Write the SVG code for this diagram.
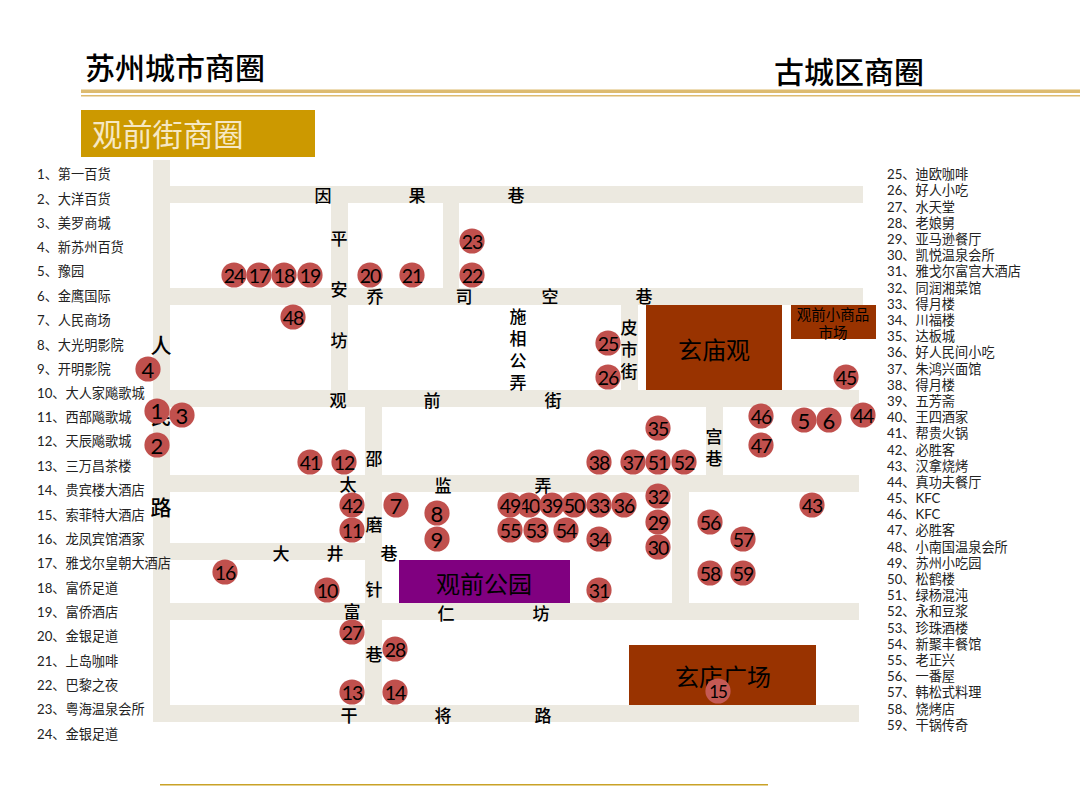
<svg xmlns="http://www.w3.org/2000/svg" width="1080" height="810" viewBox="0 0 1080 810">
<style>
text{font-family:"Noto Sans CJK SC","Liberation Sans",sans-serif;fill:#000;dominant-baseline:central}
.r{fill:#ECE9E0}
.g{fill:#DDBB70}
.b{fill:#993300}
.m circle{fill:#C0504D;r:12.6px}
.m text{font-family:"Lato","Liberation Sans",sans-serif;font-size:19.5px;letter-spacing:-1px;text-anchor:middle}
.m .d{font-size:22px;letter-spacing:0}
.l text{font-family:"Lato","Noto Sans CJK SC",sans-serif;font-size:13.2px;fill:#222}
.s text{font-size:17px;text-anchor:middle;font-weight:500}
.s .big{font-size:21px}
.t{font-size:30px;font-weight:500}
.c{text-anchor:middle}
</style>
<rect width="1080" height="810" fill="#fff"/>
<g id="header">
<rect class="g" x="81" y="89.500" width="999" height="3.500"/>
<rect class="g" x="81" y="95" width="999" height="1.500"/>
<text class="t" x="85" y="66">苏州城市商圈</text>
<text class="t" x="774" y="70">古城区商圈</text>
<rect x="81" y="110" width="234" height="47" fill="#CC9900"/>
<text x="92" y="133" font-size="30.300" style="fill:#F6E8C4">观前街商圈</text>
<rect x="160" y="784" width="608" height="1.500" fill="#C9A227"/>
</g>
<g id="roads">
<rect class="r" x="153" y="160" width="17" height="562"/>
<rect class="r" x="170" y="186" width="693" height="17"/>
<rect class="r" x="170" y="288" width="693" height="17"/>
<rect class="r" x="170" y="390" width="689" height="17"/>
<rect class="r" x="170" y="475" width="689" height="17"/>
<rect class="r" x="170" y="543" width="195" height="17"/>
<rect class="r" x="170" y="603" width="689" height="17"/>
<rect class="r" x="170" y="705" width="689" height="17"/>
<rect class="r" x="331" y="203" width="17" height="187"/>
<rect class="r" x="443" y="203" width="16" height="85"/>
<rect class="r" x="621" y="305" width="17" height="85"/>
<rect class="r" x="365" y="407" width="17" height="298"/>
<rect class="r" x="706" y="407" width="17" height="68"/>
<rect class="r" x="672" y="492" width="17" height="111"/>
</g>
<g id="blocks">
<g id="xuanmiaoguan"><rect class="b" x="646" y="305" width="136" height="85"/><text class="c" x="714" y="348" font-size="24">玄庙观</text></g>
<g id="market"><rect class="b" x="791" y="305" width="85" height="34"/><text class="c" x="833" y="313" font-size="14.500">观前小商品</text><text class="c" x="833" y="331" font-size="14.500">市场</text></g>
<g id="park"><rect x="399" y="560" width="171" height="43" fill="#800080"/><text class="c" x="484" y="582" font-size="24">观前公园</text></g>
<g id="plaza"><rect class="b" x="629" y="645" width="187" height="60"/><text class="c" x="723" y="675" font-size="24">玄店广场</text></g>
</g>
<g id="road-labels" class="s" transform="translate(0,-1.500)">
<text x="323" y="196">因</text><text x="417" y="196">果</text><text x="516" y="196">巷</text>
<text x="339" y="239">平</text><text x="339" y="290">安</text><text x="339" y="341">坊</text>
<text x="375" y="297">乔</text><text x="464" y="297">司</text><text x="550" y="297">空</text><text x="644" y="297">巷</text>
<text x="518" y="317">施</text><text x="518" y="339">相</text><text x="518" y="361">公</text><text x="518" y="383">弄</text>
<text x="629" y="328">皮</text><text x="629" y="350">市</text><text x="629" y="372">街</text>
<text class="big" x="161" y="345">人</text><text class="big" x="161" y="416">民</text><text class="big" x="161" y="507">路</text>
<text x="338" y="401">观</text><text x="432" y="401">前</text><text x="553" y="401">街</text>
<text x="374" y="459">邵</text><text x="374" y="525">磨</text><text x="374" y="590">针</text><text x="374" y="655">巷</text>
<text x="348" y="485">太</text><text x="443" y="486">监</text><text x="543" y="486">弄</text>
<text x="281" y="554">大</text><text x="335" y="554">井</text><text x="389" y="554">巷</text>
<text x="352" y="612">富</text><text x="446" y="614">仁</text><text x="541" y="614">坊</text>
<text x="349" y="716">干</text><text x="443" y="716">将</text><text x="543" y="716">路</text>
<text x="714" y="437">宫</text><text x="714" y="459">巷</text>
</g>
<g id="markers" class="m">
<g id="m1"><circle cx="157" cy="411"/><text class="d" x="157" y="410">1</text></g>
<g id="m2"><circle cx="157" cy="445"/><text class="d" x="157" y="445">2</text></g>
<g id="m3"><circle cx="182" cy="415"/><text class="d" x="182" y="415">3</text></g>
<g id="m4"><circle cx="148" cy="369"/><text class="d" x="148" y="369">4</text></g>
<g id="m5"><circle cx="804" cy="420"/><text class="d" x="804" y="420">5</text></g>
<g id="m6"><circle cx="829" cy="420"/><text class="d" x="829" y="420">6</text></g>
<g id="m7"><circle cx="396" cy="505"/><text class="d" x="396" y="505">7</text></g>
<g id="m8"><circle cx="437" cy="513"/><text class="d" x="437" y="513">8</text></g>
<g id="m9"><circle cx="437" cy="539"/><text class="d" x="437" y="539">9</text></g>
<g id="m10"><circle cx="327" cy="590"/><text x="327" y="590">10</text></g>
<g id="m11"><circle cx="352" cy="530"/><text x="352" y="530">11</text></g>
<g id="m12"><circle cx="344" cy="462"/><text x="344" y="462">12</text></g>
<g id="m13"><circle cx="352" cy="692"/><text x="352" y="692">13</text></g>
<g id="m14"><circle cx="395" cy="692"/><text x="395" y="692">14</text></g>
<g id="m15"><circle cx="718" cy="691" style="fill:#C55A55"/><text x="718" y="691" style="font-size:17px">15</text></g>
<g id="m16"><circle cx="225" cy="572"/><text x="225" y="572">16</text></g>
<g id="m24"><circle cx="234" cy="275"/><text x="234" y="275">24</text></g>
<g id="m17"><circle cx="259" cy="275"/><text x="259" y="275">17</text></g>
<g id="m18"><circle cx="284" cy="275"/><text x="284" y="275">18</text></g>
<g id="m19"><circle cx="310" cy="275"/><text x="310" y="275">19</text></g>
<g id="m20"><circle cx="370" cy="275"/><text x="370" y="275">20</text></g>
<g id="m21"><circle cx="412" cy="275"/><text x="412" y="275">21</text></g>
<g id="m22"><circle cx="472" cy="275"/><text x="472" y="275">22</text></g>
<g id="m23"><circle cx="472" cy="241"/><text x="472" y="241">23</text></g>
<g id="m25"><circle cx="608" cy="343"/><text x="608" y="343">25</text></g>
<g id="m26"><circle cx="608" cy="377"/><text x="608" y="377">26</text></g>
<g id="m27"><circle cx="352" cy="632"/><text x="352" y="632">27</text></g>
<g id="m28"><circle cx="395" cy="649"/><text x="395" y="649">28</text></g>
<g id="m29"><circle cx="658" cy="522"/><text x="658" y="522">29</text></g>
<g id="m30"><circle cx="658" cy="547"/><text x="658" y="547">30</text></g>
<g id="m31"><circle cx="599" cy="590"/><text x="599" y="590">31</text></g>
<g id="m32"><circle cx="658" cy="496"/><text x="658" y="496">32</text></g>
<g id="m33"><circle cx="599" cy="505"/><text x="599" y="505">33</text></g>
<g id="m34"><circle cx="599" cy="539"/><text x="599" y="539">34</text></g>
<g id="m35"><circle cx="658" cy="428"/><text x="658" y="428">35</text></g>
<g id="m36"><circle cx="624" cy="505"/><text x="624" y="505">36</text></g>
<g id="m38"><circle cx="599" cy="462"/><text x="599" y="462">38</text></g>
<g id="m37"><circle cx="633" cy="462"/><text x="633" y="462">37</text></g>
<g id="m51"><circle cx="658" cy="462"/><text x="658" y="462">51</text></g>
<g id="m52"><circle cx="684" cy="462"/><text x="684" y="462">52</text></g>
<g id="m40"><circle cx="529" cy="505"/><text x="529" y="505">40</text></g>
<g id="m49"><circle cx="510" cy="505"/><text x="510" y="505">49</text></g>
<g id="m50"><circle cx="574" cy="505"/><text x="574" y="505">50</text></g>
<g id="m39"><circle cx="552" cy="505"/><text x="552" y="505">39</text></g>
<g id="m41"><circle cx="310" cy="462"/><text x="310" y="462">41</text></g>
<g id="m42"><circle cx="352" cy="505"/><text x="352" y="505">42</text></g>
<g id="m43"><circle cx="812" cy="505"/><text x="812" y="505">43</text></g>
<g id="m44"><circle cx="863" cy="415"/><text x="863" y="415">44</text></g>
<g id="m45"><circle cx="846" cy="377"/><text x="846" y="377">45</text></g>
<g id="m46"><circle cx="761" cy="416"/><text x="761" y="416">46</text></g>
<g id="m47"><circle cx="761" cy="445"/><text x="761" y="445">47</text></g>
<g id="m48"><circle cx="293" cy="317"/><text x="293" y="317">48</text></g>
<g id="m55"><circle cx="510" cy="530"/><text x="510" y="530">55</text></g>
<g id="m53"><circle cx="536" cy="530"/><text x="536" y="530">53</text></g>
<g id="m54"><circle cx="566" cy="530"/><text x="566" y="530">54</text></g>
<g id="m56"><circle cx="710" cy="522"/><text x="710" y="522">56</text></g>
<g id="m57"><circle cx="743" cy="539"/><text x="743" y="539">57</text></g>
<g id="m58"><circle cx="710" cy="573"/><text x="710" y="573">58</text></g>
<g id="m59"><circle cx="743" cy="573"/><text x="743" y="573">59</text></g>
</g>
<g id="legend-left" class="l">
<text x="37" y="174">1、第一百货</text>
<text x="37" y="199">2、大洋百货</text>
<text x="37" y="223">3、美罗商城</text>
<text x="37" y="247">4、新苏州百货</text>
<text x="37" y="271">5、豫园</text>
<text x="37" y="296">6、金鹰国际</text>
<text x="37" y="320">7、人民商场</text>
<text x="37" y="345">8、大光明影院</text>
<text x="37" y="369">9、开明影院</text>
<text x="37" y="393">10、大人家飚歌城</text>
<text x="37" y="417">11、西部飚歌城</text>
<text x="37" y="441">12、天辰飚歌城</text>
<text x="37" y="466">13、三万昌茶楼</text>
<text x="37" y="490">14、贵宾楼大酒店</text>
<text x="37" y="515">15、索菲特大酒店</text>
<text x="37" y="539">16、龙凤宾馆酒家</text>
<text x="37" y="563">17、雅戈尔皇朝大酒店</text>
<text x="37" y="588">18、富侨足道</text>
<text x="37" y="612">19、富侨酒店</text>
<text x="37" y="636">20、金银足道</text>
<text x="37" y="661">21、上岛咖啡</text>
<text x="37" y="685">22、巴黎之夜</text>
<text x="37" y="709">23、粤海温泉会所</text>
<text x="37" y="734">24、金银足道</text>
</g>
<g id="legend-right" class="l">
<text x="887" y="174">25、迪欧咖啡</text>
<text x="887" y="190">26、好人小吃</text>
<text x="887" y="207">27、水天堂</text>
<text x="887" y="223">28、老娘舅</text>
<text x="887" y="239">29、亚马逊餐厅</text>
<text x="887" y="255">30、凯悦温泉会所</text>
<text x="887" y="271">31、雅戈尔富宫大酒店</text>
<text x="887" y="288">32、同润湘菜馆</text>
<text x="887" y="304">33、得月楼</text>
<text x="887" y="320">34、川福楼</text>
<text x="887" y="336">35、达板城</text>
<text x="887" y="352">36、好人民间小吃</text>
<text x="887" y="369">37、朱鸿兴面馆</text>
<text x="887" y="385">38、得月楼</text>
<text x="887" y="401">39、五芳斋</text>
<text x="887" y="417">40、王四酒家</text>
<text x="887" y="433">41、帮贵火锅</text>
<text x="887" y="450">42、必胜客</text>
<text x="887" y="466">43、汉拿烧烤</text>
<text x="887" y="482">44、真功夫餐厅</text>
<text x="887" y="498">45、KFC</text>
<text x="887" y="514">46、KFC</text>
<text x="887" y="530">47、必胜客</text>
<text x="887" y="547">48、小南国温泉会所</text>
<text x="887" y="563">49、苏州小吃园</text>
<text x="887" y="579">50、松鹤楼</text>
<text x="887" y="595">51、绿杨混沌</text>
<text x="887" y="611">52、永和豆浆</text>
<text x="887" y="628">53、珍珠酒楼</text>
<text x="887" y="644">54、新聚丰餐馆</text>
<text x="887" y="660">55、老正兴</text>
<text x="887" y="676">56、一番屋</text>
<text x="887" y="692">57、韩松式料理</text>
<text x="887" y="709">58、烧烤店</text>
<text x="887" y="725">59、干锅传奇</text>
</g>
</svg>
